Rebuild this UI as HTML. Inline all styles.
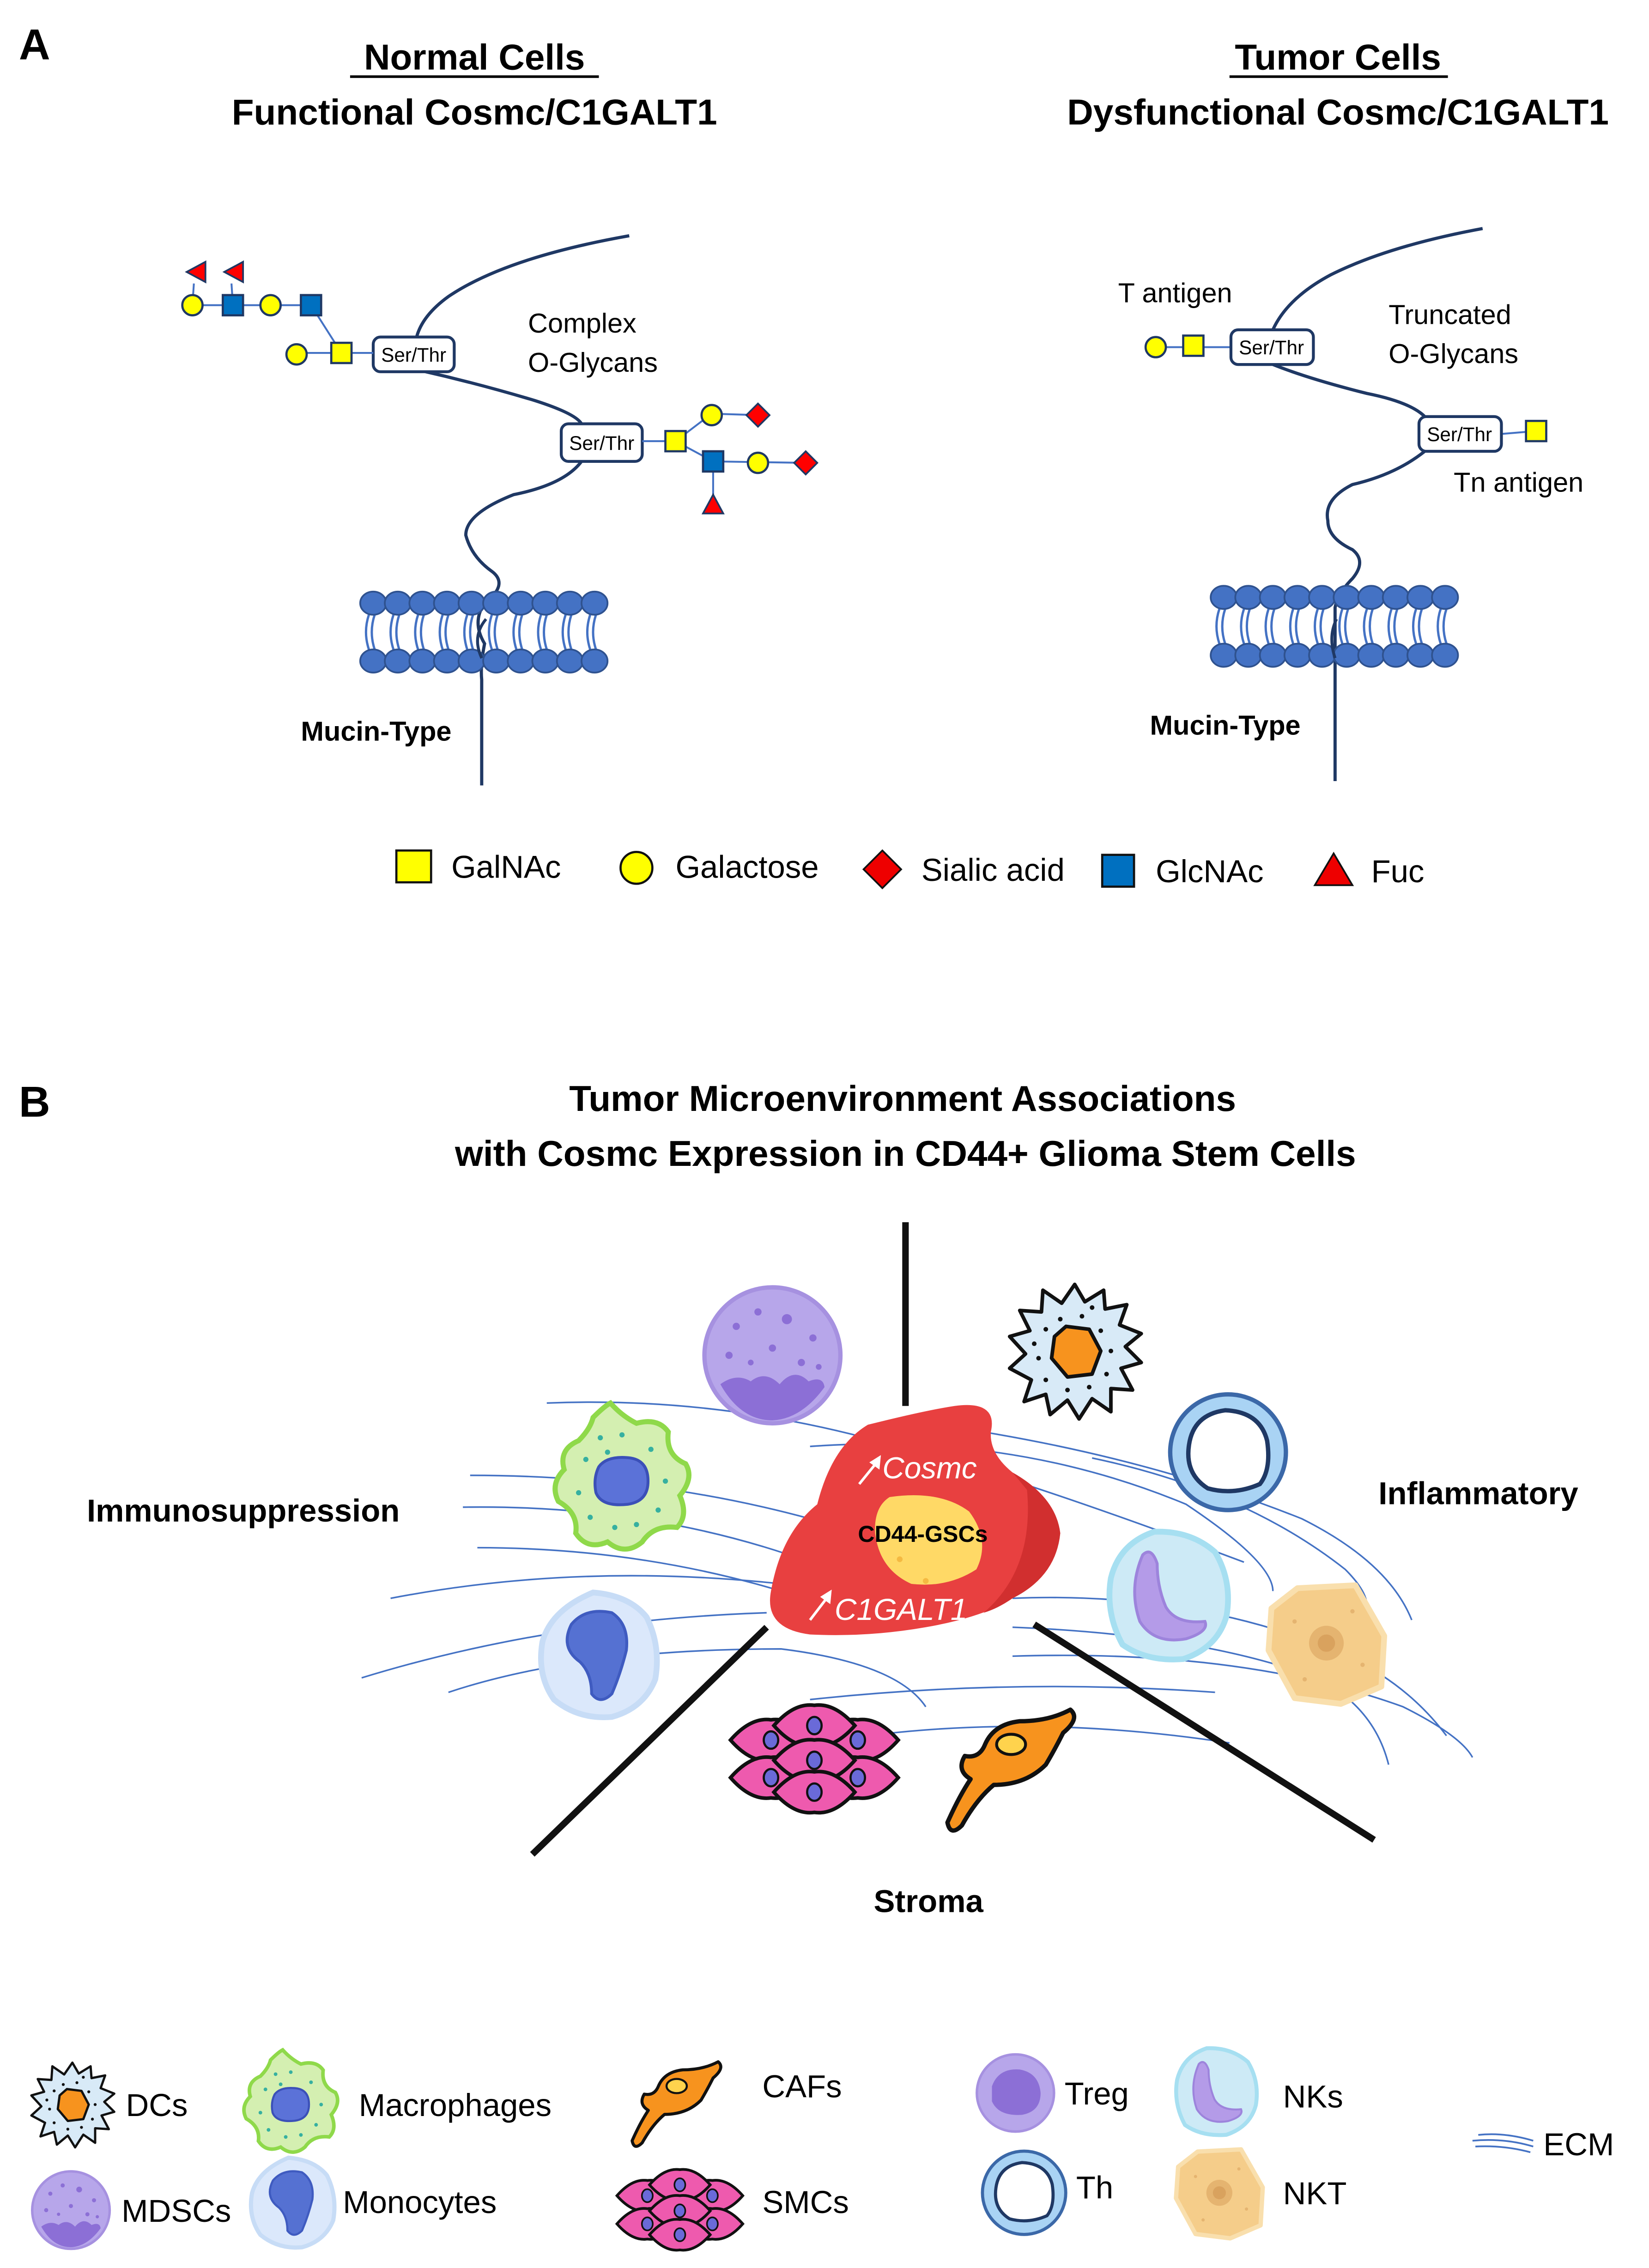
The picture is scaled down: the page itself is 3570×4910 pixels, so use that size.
<!DOCTYPE html>
<html><head><meta charset="utf-8"><style>html,body{margin:0;padding:0;background:#fff}svg{display:block}</style></head>
<body>
<svg width="3570" height="4910" viewBox="0 0 1140 1568" xmlns="http://www.w3.org/2000/svg" font-family="Liberation Sans, DejaVu Sans, sans-serif">
<defs>
<g id="lip">
<path d="M-3,8 Q-7,20 -3,32 M1,8 Q-3,20 1,32" stroke="#4472c4" stroke-width="1.6" fill="none"/>
<ellipse cx="0" cy="0" rx="9" ry="8" fill="#4472c4" stroke="#2f528f" stroke-width="1.2"/>
<ellipse cx="0" cy="40" rx="9" ry="8" fill="#4472c4" stroke="#2f528f" stroke-width="1.2"/>
</g>
<g id="gc"><circle r="7" fill="#ffff00" stroke="#1f3864" stroke-width="1.5"/></g>
<g id="gsY"><rect x="-7" y="-7" width="14" height="14" fill="#ffff00" stroke="#1f3864" stroke-width="1.5"/></g>
<g id="gsB"><rect x="-7" y="-7" width="14" height="14" fill="#0070c0" stroke="#1f3864" stroke-width="1.5"/></g>
<g id="gd"><path d="M0,-8 L8,0 L0,8 L-8,0Z" fill="#ff0000" stroke="#1f3864" stroke-width="1.2"/></g>
<g id="gt"><path d="M0,-7 L7,6 L-7,6Z" fill="#ff0000" stroke="#1f3864" stroke-width="1.2"/></g>
<g id="gtl"><path d="M-7,0 L6,-7 L6,7Z" fill="#ff0000" stroke="#1f3864" stroke-width="1.2"/></g>

<g id="dc">
<path d="M0,-46 L7,-34 L20,-42 L21,-29 L36,-32 L31,-18 L46,-12 L35,-3 L46,8 L32,12 L40,27 L25,26 L25,42 L12,33 L3,47 L-5,34 L-17,44 L-20,30 L-35,35 L-30,20 L-45,12 L-34,2 L-45,-10 L-31,-14 L-38,-28 L-23,-27 L-22,-42 L-9,-33Z" fill="#d8eaf7" stroke="#111" stroke-width="2.5" stroke-linejoin="round"/>
<g fill="#111"><circle cx="-20" cy="-15" r="1.6"/><circle cx="-10" cy="-22" r="1.6"/><circle cx="5" cy="-24" r="1.6"/><circle cx="18" cy="-14" r="1.6"/><circle cx="25" cy="0" r="1.6"/><circle cx="22" cy="16" r="1.6"/><circle cx="-25" cy="5" r="1.6"/><circle cx="-20" cy="20" r="1.6"/><circle cx="-5" cy="27" r="1.6"/><circle cx="10" cy="25" r="1.6"/><circle cx="-28" cy="-5" r="1.6"/><circle cx="12" cy="-30" r="1.6"/></g>
<path d="M-6,-17 L10,-15 L18,0 L12,16 L-5,18 L-16,5 L-14,-10Z" fill="#f7931e" stroke="#111" stroke-width="2.5" stroke-linejoin="round"/>
</g>
<g id="mdsc">
<circle r="47" fill="#b7a6ea" stroke="#a691e0" stroke-width="3"/>
<path d="M-36,20 Q-25,12 -15,18 Q-5,10 5,20 Q15,8 25,18 Q35,14 36,22 Q20,44 0,45 Q-22,45 -36,20Z" fill="#8c6fd6"/>
<g fill="#8c6fd6"><circle cx="-25" cy="-20" r="2.5"/><circle cx="-10" cy="-30" r="2.5"/><circle cx="10" cy="-25" r="3.5"/><circle cx="28" cy="-12" r="2.5"/><circle cx="-30" cy="0" r="2.5"/><circle cx="0" cy="-5" r="2.5"/><circle cx="20" cy="5" r="2.5"/><circle cx="-15" cy="5" r="2"/><circle cx="32" cy="8" r="2"/></g>
</g>
<g id="treg">
<circle r="46" fill="#b7a6ea" stroke="#a691e0" stroke-width="3"/>
<path d="M-28,-8 Q-20,-30 5,-28 Q28,-24 30,0 Q30,22 8,26 Q-20,28 -28,10Z" fill="#8c6fd6"/>
</g>
<g id="th">
<circle r="40" fill="#a9d3f4" stroke="#3b68a8" stroke-width="3"/>
<path d="M-27,-5 Q-24,-26 -2,-29 Q22,-28 27,-8 Q30,12 22,22 Q4,30 -14,25 Q-30,15 -27,-5Z" fill="#fff" stroke="#1f3864" stroke-width="3"/>
</g>
<g id="mac">
<path d="M-8,-54 Q0,-45 10,-40 Q25,-44 32,-34 Q30,-18 44,-12 Q50,-2 40,10 Q46,24 38,32 Q22,30 14,42 Q2,52 -10,42 Q-24,48 -32,36 Q-30,22 -44,14 Q-50,2 -40,-8 Q-44,-22 -30,-28 Q-22,-36 -20,-44 Q-12,-52 -8,-54Z" fill="#d4efb1" stroke="#8fd94a" stroke-width="3.5"/>
<g fill="#36b0a0"><circle cx="-25" cy="-15" r="1.8"/><circle cx="-15" cy="-30" r="1.8"/><circle cx="0" cy="-32" r="1.8"/><circle cx="20" cy="-22" r="1.8"/><circle cx="30" cy="0" r="1.8"/><circle cx="25" cy="20" r="1.8"/><circle cx="-30" cy="8" r="1.8"/><circle cx="-22" cy="25" r="1.8"/><circle cx="-5" cy="32" r="1.8"/><circle cx="10" cy="30" r="1.8"/><circle cx="-10" cy="-20" r="1.8"/></g>
<path d="M-16,-10 Q-10,-18 6,-16 Q18,-14 18,0 Q18,14 4,16 Q-14,18 -18,8 Q-20,-2 -16,-10Z" fill="#5b72d8" stroke="#3b50b8" stroke-width="2"/>
</g>
<g id="mono">
<path d="M-5,-42 Q20,-40 32,-25 Q42,-5 38,18 Q30,38 8,44 Q-15,46 -32,32 Q-44,15 -40,-8 Q-34,-30 -5,-42Z" fill="#dbe8fb" stroke="#c7dcf6" stroke-width="4"/>
<path d="M-20,-20 Q-10,-32 8,-28 Q20,-20 18,-2 Q14,14 8,28 Q0,36 -6,28 Q-6,14 -14,6 Q-28,-4 -20,-20Z" fill="#5571d2" stroke="#3f5bc0" stroke-width="2"/>
</g>
<g id="nk">
<path d="M-10,-44 Q15,-45 32,-30 Q44,-10 40,14 Q34,36 10,44 Q-15,46 -32,34 Q-44,12 -40,-12 Q-34,-36 -10,-44Z" fill="#cdeaf6" stroke="#a6dff1" stroke-width="4"/>
<path d="M-18,-28 Q-28,-5 -20,18 Q-10,34 12,30 Q28,25 25,18 Q5,20 -2,8 Q-8,-6 -8,-22 Q-12,-34 -18,-28Z" fill="#b49be8" stroke="#9d84dc" stroke-width="2"/>
</g>
<g id="nkt">
<path d="M-20,-38 L20,-40 L40,-5 L38,30 L10,42 L-22,38 L-40,5 L-38,-24Z" fill="#f5cd8a" stroke="#f9dfad" stroke-width="4" stroke-linejoin="round"/>
<circle cx="0" cy="0" r="12" fill="#e5b470"/><circle cx="0" cy="0" r="6" fill="#d9a25e"/>
<g fill="#e5b470"><circle cx="-22" cy="-15" r="1.5"/><circle cx="18" cy="-22" r="1.5"/><circle cx="25" cy="15" r="1.5"/><circle cx="-15" cy="25" r="1.5"/></g>
</g>
<g id="smcunit">
<path d="M-28,0 Q-14,-16 0,-14 Q14,-16 28,0 Q14,16 0,14 Q-14,16 -28,0Z" fill="#ee5aae" stroke="#111" stroke-width="2.5"/>
<ellipse cx="0" cy="0" rx="5" ry="6" fill="#6a6ad8" stroke="#111" stroke-width="1.5"/>
</g>
<g id="smc">
<use href="#smcunit" x="-30" y="-12"/><use href="#smcunit" x="30" y="-12"/>
<use href="#smcunit" x="-30" y="14"/><use href="#smcunit" x="30" y="14"/>
<use href="#smcunit" x="0" y="-22"/><use href="#smcunit" x="0" y="2"/><use href="#smcunit" x="0" y="24"/>
</g>
<g id="caf">
<path d="M35,-38 Q42,-32 30,-22 Q24,-10 18,0 Q4,14 -18,14 Q-30,24 -40,42 Q-48,50 -50,40 Q-42,22 -34,10 Q-44,4 -38,-6 Q-28,-4 -24,-14 Q-18,-28 0,-30 Q20,-30 35,-38Z" fill="#f7931e" stroke="#111" stroke-width="3" stroke-linejoin="round"/>
<ellipse cx="-6" cy="-14" rx="10" ry="7" fill="#ffd34d" stroke="#111" stroke-width="2"/>
</g>
</defs>

<!-- Panel A -->
<text x="13" y="41" font-size="30" font-weight="bold">A</text>
<text x="328" y="48" font-size="25" font-weight="bold" text-anchor="middle">Normal Cells</text>
<line x1="242" y1="53" x2="414" y2="53" stroke="#000" stroke-width="1.8"/>
<text x="328" y="86" font-size="25" font-weight="bold" text-anchor="middle">Functional Cosmc/C1GALT1</text>
<text x="925" y="48" font-size="25" font-weight="bold" text-anchor="middle">Tumor Cells</text>
<line x1="850" y1="53" x2="1001" y2="53" stroke="#000" stroke-width="1.8"/>
<text x="925" y="86" font-size="25" font-weight="bold" text-anchor="middle">Dysfunctional Cosmc/C1GALT1</text>

<!-- left mucin -->
<g fill="none" stroke="#1f3864" stroke-width="2.2">
<path d="M435,163 Q350,178 310,205 Q292,218 288,233"/>
<path d="M290,256 Q330,265 370,277 Q398,286 402,293"/>
<path d="M402,319 Q390,335 355,342 Q322,355 322,370 Q326,385 340,395 Q352,404 335,417 Q326,430 335,445 Q332,460 333,470 L333,543"/>
</g>
<g>
<use href="#lip" x="258" y="417"/><use href="#lip" x="275" y="417"/><use href="#lip" x="292" y="417"/><use href="#lip" x="309" y="417"/><use href="#lip" x="326" y="417"/><use href="#lip" x="343" y="417"/><use href="#lip" x="360" y="417"/><use href="#lip" x="377" y="417"/><use href="#lip" x="394" y="417"/><use href="#lip" x="411" y="417"/>
</g>
<path d="M336,428 Q326,440 333,455" fill="none" stroke="#1f3864" stroke-width="2"/>
<rect x="258" y="233" width="56" height="24" rx="5" fill="#fff" stroke="#1f3864" stroke-width="2"/>
<text x="286" y="250" font-size="13.5" text-anchor="middle">Ser/Thr</text>
<rect x="388" y="293" width="56" height="26" rx="5" fill="#fff" stroke="#1f3864" stroke-width="2"/>
<text x="416" y="311" font-size="13.5" text-anchor="middle">Ser/Thr</text>
<g stroke="#4472c4" stroke-width="1.3" fill="none">
<path d="M133,211 L215,211 M215,211 L236,244 M205,244 L258,244 M134,196 L133,211 M160,196 L161,211"/>
<path d="M444,305 L467,305 L492,286 L524,287 M467,305 L493,319 L557,320 M493,319 L493,348"/>
</g>
<use href="#gtl" x="136" y="188"/><use href="#gtl" x="162" y="188"/>
<use href="#gc" x="133" y="211"/><use href="#gsB" x="161" y="211"/><use href="#gc" x="187" y="211"/><use href="#gsB" x="215" y="211"/>
<use href="#gc" x="205" y="245"/><use href="#gsY" x="236" y="244"/>
<use href="#gsY" x="467" y="305"/><use href="#gc" x="492" y="287"/><use href="#gd" x="524" y="287"/>
<use href="#gsB" x="493" y="319"/><use href="#gc" x="524" y="320"/><use href="#gd" x="557" y="320"/>
<use href="#gt" x="493" y="349"/>
<text x="365" y="230" font-size="19">Complex</text>
<text x="365" y="257" font-size="19">O-Glycans</text>
<text x="208" y="512" font-size="19" font-weight="bold">Mucin-Type</text>

<!-- right mucin -->
<g fill="none" stroke="#1f3864" stroke-width="2.2">
<path d="M1025,158 Q960,170 920,190 Q890,206 880,228"/>
<path d="M880,252 Q905,262 945,272 Q975,278 985,288"/>
<path d="M985,312 Q965,328 935,335 Q915,345 918,360 Q918,372 935,380 Q945,388 935,400 Q925,410 923,420 L923,540"/>
</g>
<g>
<use href="#lip" x="846" y="413"/><use href="#lip" x="863" y="413"/><use href="#lip" x="880" y="413"/><use href="#lip" x="897" y="413"/><use href="#lip" x="914" y="413"/><use href="#lip" x="931" y="413"/><use href="#lip" x="948" y="413"/><use href="#lip" x="965" y="413"/><use href="#lip" x="982" y="413"/><use href="#lip" x="999" y="413"/>
</g>
<path d="M924,428 Q918,440 923,455" fill="none" stroke="#1f3864" stroke-width="2"/>
<g stroke="#4472c4" stroke-width="1.3"><line x1="799" y1="240" x2="851" y2="240"/><line x1="1038" y1="300" x2="1062" y2="298"/></g>
<rect x="851" y="228" width="57" height="24" rx="5" fill="#fff" stroke="#1f3864" stroke-width="2"/>
<text x="879" y="245" font-size="13.5" text-anchor="middle">Ser/Thr</text>
<rect x="981" y="288" width="57" height="24" rx="5" fill="#fff" stroke="#1f3864" stroke-width="2"/>
<text x="1009" y="305" font-size="13.5" text-anchor="middle">Ser/Thr</text>
<use href="#gc" x="799" y="240"/><use href="#gsY" x="825" y="239"/><use href="#gsY" x="1062" y="298"/>
<text x="773" y="209" font-size="19">T antigen</text>
<text x="960" y="224" font-size="19">Truncated</text>
<text x="960" y="251" font-size="19">O-Glycans</text>
<text x="1005" y="340" font-size="19">Tn antigen</text>
<text x="795" y="508" font-size="19" font-weight="bold">Mucin-Type</text>

<!-- legend A -->
<rect x="274" y="588" width="24" height="22" fill="#ffff00" stroke="#111" stroke-width="1.5"/>
<text x="312" y="607" font-size="22">GalNAc</text>
<circle cx="440" cy="600" r="11" fill="#ffff00" stroke="#111" stroke-width="1.5"/>
<text x="467" y="607" font-size="22">Galactose</text>
<path d="M610,588 L623,601 L610,614 L597,601Z" fill="#e00" stroke="#111" stroke-width="1.2"/>
<text x="637" y="609" font-size="22">Sialic acid</text>
<rect x="762" y="591" width="22" height="22" fill="#0070c0" stroke="#111" stroke-width="1.5"/>
<text x="799" y="610" font-size="22">GlcNAc</text>
<path d="M922,590 L935,612 L909,612Z" fill="#e00" stroke="#111" stroke-width="1.2"/>
<text x="948" y="610" font-size="22">Fuc</text>

<!-- Panel B -->
<text x="13" y="772" font-size="30" font-weight="bold">B</text>
<text x="624" y="768" font-size="25" font-weight="bold" text-anchor="middle">Tumor Microenvironment Associations</text>
<text x="626" y="806" font-size="25" font-weight="bold" text-anchor="middle">with Cosmc Expression in CD44+ Glioma Stem Cells</text>

<!-- ECM lines -->
<g fill="none" stroke="#4472c4" stroke-width="1.1">
<path d="M378,970 Q500,965 620,1000 Q700,1020 860,1080"/>
<path d="M325,1020 Q450,1020 560,1050"/>
<path d="M320,1042 Q450,1040 560,1080"/>
<path d="M330,1070 Q440,1070 540,1100"/>
<path d="M270,1105 Q400,1080 540,1095"/>
<path d="M250,1160 Q380,1120 530,1115"/>
<path d="M310,1170 Q400,1140 540,1140 Q620,1150 640,1180"/>
<path d="M560,1000 Q700,990 820,1040 Q880,1080 880,1100"/>
<path d="M680,990 Q800,1010 900,1050 Q960,1080 976,1120"/>
<path d="M700,1105 Q820,1100 920,1140 Q970,1160 1000,1200"/>
<path d="M700,1125 Q830,1130 910,1160 Q950,1180 960,1220"/>
<path d="M560,1175 Q700,1160 840,1170"/>
<path d="M600,1200 Q720,1185 850,1205"/>
<path d="M700,1145 Q860,1140 970,1180 Q1010,1200 1018,1215"/>
<path d="M755,1008 Q860,1030 930,1085 Q945,1100 945,1110"/>
</g>

<!-- black divider lines -->
<g stroke="#111" stroke-width="4.5" stroke-linecap="butt">
<line x1="626" y1="845" x2="626" y2="972"/>
<line x1="530" y1="1125" x2="368" y2="1282"/>
<line x1="715" y1="1123" x2="950" y2="1272"/>
</g>

<!-- tumor cell -->
<path d="M600,985 Q640,975 660,972 Q690,968 685,990 Q684,1005 700,1018 Q730,1035 733,1060 Q730,1090 700,1105 Q680,1118 640,1125 Q600,1132 560,1130 Q528,1126 533,1100 Q540,1060 565,1040 Q575,1000 600,985Z" fill="#e84040"/>
<path d="M700,1018 Q730,1035 733,1060 Q730,1090 700,1105 Q690,1112 680,1115 Q715,1085 710,1030Z" fill="#d12f2f"/>
<path d="M615,1035 Q650,1030 670,1045 Q685,1065 675,1085 Q655,1098 630,1095 Q608,1085 605,1060 Q604,1042 615,1035Z" fill="#ffd966"/>
<circle cx="622" cy="1078" r="2" fill="#f4b942"/><circle cx="640" cy="1093" r="2" fill="#f4b942"/>
<text x="610" y="1022" font-size="21" font-style="italic" fill="#fff">Cosmc</text>
<path d="M594,1026 L607,1010" stroke="#fff" stroke-width="1.8"/><path d="M609,1006 L608,1016 L601,1011Z" fill="#fff"/>
<text x="638" y="1066" font-size="16" font-weight="bold" text-anchor="middle">CD44-GSCs</text>
<text x="577" y="1120" font-size="21" font-style="italic" fill="#fff">C1GALT1</text>
<path d="M560,1120 L573,1103" stroke="#fff" stroke-width="1.8"/><path d="M575,1099 L574,1109 L567,1104Z" fill="#fff"/>

<!-- cells in diagram -->
<use href="#mdsc" x="534" y="937"/>
<use href="#dc" x="743" y="934"/>
<use href="#th" x="849" y="1004"/>
<use href="#mac" x="430" y="1024"/>
<use href="#mono" x="415" y="1143"/>
<use href="#nk" x="808" y="1103"/>
<use href="#nkt" x="917" y="1136"/>
<use href="#smc" x="563" y="1215"/>
<use href="#caf" x="705" y="1220"/>

<text x="60" y="1052" font-size="22" font-weight="bold">Immunosuppression</text>
<text x="953" y="1040" font-size="22" font-weight="bold">Inflammatory</text>
<text x="604" y="1322" font-size="22" font-weight="bold">Stroma</text>

<!-- legend B -->
<use href="#dc" transform="translate(50,1455) scale(0.63)"/>
<text x="87" y="1463" font-size="22">DCs</text>
<use href="#mac" transform="translate(201,1455) scale(0.7)"/>
<text x="248" y="1463" font-size="22">Macrophages</text>
<use href="#caf" transform="translate(472,1452) scale(0.7)"/>
<text x="527" y="1450" font-size="22">CAFs</text>
<use href="#treg" transform="translate(702,1447) scale(0.58)"/>
<text x="736" y="1455" font-size="22">Treg</text>
<use href="#nk" transform="translate(841,1446) scale(0.68)"/>
<text x="887" y="1457" font-size="22">NKs</text>
<g fill="none" stroke="#4472c4" stroke-width="1.2"><path d="M1022,1476 Q1040,1474 1060,1480"/><path d="M1018,1480 Q1040,1478 1060,1484"/><path d="M1020,1484 Q1040,1483 1058,1488"/></g>
<text x="1067" y="1490" font-size="22">ECM</text>
<use href="#mdsc" transform="translate(49,1528) scale(0.57)"/>
<text x="84" y="1536" font-size="22">MDSCs</text>
<use href="#mono" transform="translate(203,1522) scale(0.72)"/>
<text x="237" y="1530" font-size="22">Monocytes</text>
<use href="#smc" transform="translate(470,1527) scale(0.75)"/>
<text x="527" y="1530" font-size="22">SMCs</text>
<use href="#th" transform="translate(708,1516) scale(0.72)"/>
<text x="744" y="1520" font-size="22">Th</text>
<use href="#nkt" transform="translate(843,1516) scale(0.75)"/>
<text x="887" y="1524" font-size="22">NKT</text>
</svg>
</body></html>
